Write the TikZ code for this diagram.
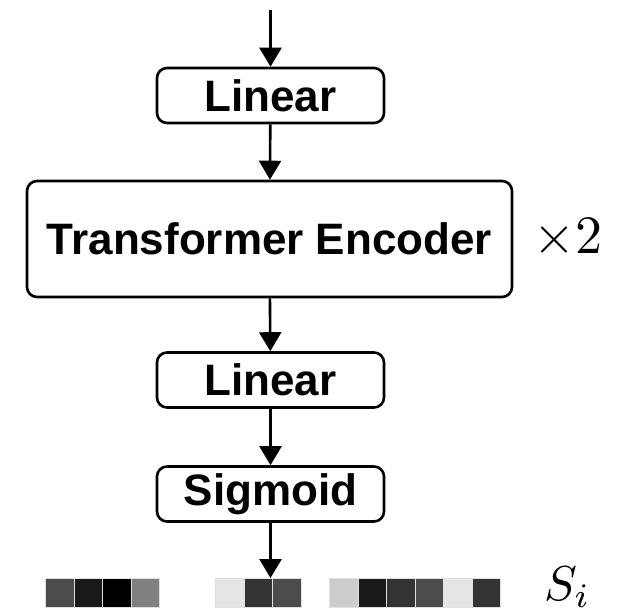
\documentclass[tikz,border=0pt]{standalone}
\usepackage{fontspec}
\setmainfont{Liberation Sans}
\usetikzlibrary{arrows.meta}
\begin{document}
\begin{tikzpicture}[x=1pt,y=-1pt,
  blk/.style={draw, line width=2.6pt, rounded corners=10pt, minimum width=227pt, minimum height=55pt, inner sep=0pt, font=\fontsize{44}{48}\selectfont\bfseries},
  conn/.style={line width=2.6pt, -{Triangle[length=19pt,width=22pt]}},
  sq/.style={draw=black!12, line width=0.6pt, minimum size=28.5pt, inner sep=0pt}]
\useasboundingbox (0,0) rectangle (620,612);
\coordinate (in) at (270.5,10);
\node[blk] (lin1) at (270.5,95.5) {Linear};
\node[blk, minimum width=485pt, minimum height=116pt] (enc) at (269.5,239) {Transformer Encoder};
\node[anchor=base west, inner sep=0pt] (rep) at (533,253) {\scalebox{5.4}{$\times 2$}};
\node[blk] (lin2) at (270.5,380) {Linear};
\node[blk] (sig) at (270.5,494) {Sigmoid};
\coordinate (out) at (270.5,578);
\draw[conn] (in) -- (lin1);
\draw[conn] (lin1) -- (enc);
\draw[conn] (enc) -- (lin2);
\draw[conn] (lin2) -- (sig);
% squares (value = percent white)
\foreach \c [count=\i] in {30,10,0,50} {
  \node[sq, fill=white!\c!black, anchor=north west] (a\i) at ({45+28.5*(\i-1)},578) {};
}
\foreach \c [count=\i] in {90,20,30} {
  \node[sq, fill=white!\c!black, anchor=north west] (b\i) at ({215+28.5*(\i-1)},578) {};
}
\foreach \c [count=\i] in {80,10,20,30,90,20} {
  \node[sq, fill=white!\c!black, anchor=north west] (c\i) at ({329+28.5*(\i-1)},578) {};
}
\draw[conn] (sig) -- (out);
\node[anchor=base west, inner sep=0pt] (si) at (544,600) {\scalebox{4.9}{$S_i$}};
\end{tikzpicture}
\end{document}
